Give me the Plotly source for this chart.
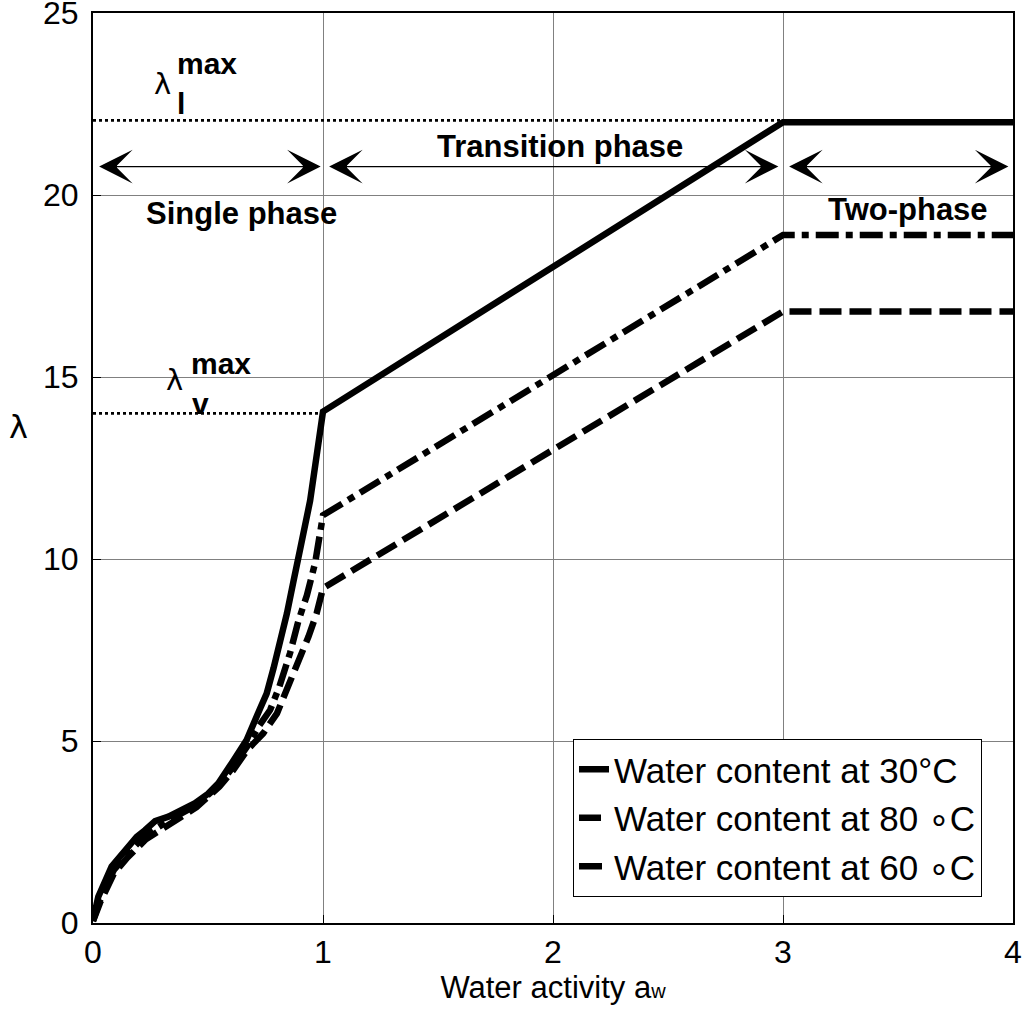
import plotly.graph_objects as go

# ---- data ----
aw_30 = [0.0, 0.023, 0.081, 0.139, 0.19, 0.226, 0.27, 0.328, 0.39, 0.444, 0.50, 0.545, 0.603,
         0.668, 0.727, 0.755, 0.785, 0.81, 0.843, 0.872, 0.888, 0.90, 0.944, 0.98, 1.0, 3.0, 4.0]
lam_30 = [0.08, 0.72, 1.55, 2.0, 2.37, 2.55, 2.8, 2.92, 3.12, 3.29, 3.55, 3.84, 4.39,
          5.03, 5.9, 6.3, 7.0, 7.6, 8.5, 9.4, 10.0, 10.25, 11.6, 13.0, 14.05, 22.0, 22.0]

aw_80 = [0.0, 0.03, 0.09, 0.15, 0.23, 0.33, 0.45, 0.55, 0.61, 0.67, 0.74, 0.80, 0.843,
         0.886, 0.937, 0.972, 1.0, 3.0, 4.0]
lam_80 = [0.05, 0.55, 1.35, 1.8, 2.3, 2.72, 3.18, 3.75, 4.2, 4.75, 5.21, 5.76, 6.4,
          7.04, 7.87, 8.5, 9.2, 16.8, 16.8]

aw_60 = [0.0, 0.03, 0.09, 0.15, 0.23, 0.33, 0.45, 0.55, 0.61, 0.67, 0.72, 0.77, 0.81,
         0.857, 0.893, 0.93, 0.966, 0.99, 1.0, 3.0, 4.0]
lam_60 = [0.06, 0.62, 1.45, 1.9, 2.42, 2.82, 3.24, 3.8, 4.3, 4.85, 5.4, 5.85, 6.49,
          7.42, 8.3, 9.0, 9.9, 10.8, 11.2, 18.9, 18.9]

lam_l_max = 22.05
lam_v_max = 14.0

x_ticks = [0, 1, 2, 3, 4]
y_ticks = [0, 5, 10, 15, 20, 25]

FONT = "Liberation Sans, Arial, sans-serif"

fig = go.Figure()

fig.add_trace(go.Scatter(x=aw_30, y=lam_30, mode="lines", name="Water content at 30°C",
                         legendgroup="a", line=dict(color="black", width=6.5)))
fig.add_trace(go.Scatter(x=aw_80, y=lam_80, mode="lines", name="Water content at 80 ∘C",
                         legendgroup="b", line=dict(color="black", width=6.5, dash="22px,8px")))
fig.add_trace(go.Scatter(x=aw_60, y=lam_60, mode="lines", name="Water content at 60 ∘C",
                         legendgroup="c", line=dict(color="black", width=6.5, dash="23px,7px,7px,7px")))

# dotted max lines
fig.add_trace(go.Scatter(x=[0, 3], y=[lam_l_max, lam_l_max], mode="lines", showlegend=False,
                         line=dict(color="black", width=2.7, dash="3px,3px")))
fig.add_trace(go.Scatter(x=[0, 1], y=[lam_v_max, lam_v_max], mode="lines", showlegend=False,
                         line=dict(color="black", width=2.7, dash="3px,3px")))

ann = []
arrow_y = 20.78
for x0, x1 in [(0.02, 0.99), (1.02, 2.98), (3.02, 3.98)]:
    ann.append(dict(x=x1, y=arrow_y, ax=x0, ay=arrow_y, xref="x", yref="y", axref="x", ayref="y",
                    text="", showarrow=True, arrowhead=3, startarrowhead=3, arrowside="end+start",
                    arrowwidth=1.3, arrowsize=4.3, startarrowsize=4.3, arrowcolor="black"))

bold = dict(family=FONT, size=31, color="black", weight="bold")
ann.append(dict(x=0.644, y=19.5, text="<b>Single phase</b>", showarrow=False, font=bold))
ann.append(dict(x=2.032, y=21.32, text="<b>Transition phase</b>", showarrow=False, font=bold))
ann.append(dict(x=3.542, y=19.59, text="<b>Two-phase</b>", showarrow=False, font=bold))

lam_font = dict(family="DejaVu Sans, sans-serif", size=29, color="black")
sup_font = dict(family=FONT, size=30, color="black")
ann.append(dict(x=0.300, y=23.05, text="λ", showarrow=False, font=lam_font))
ann.append(dict(x=0.496, y=23.6, text="<b>max</b>", showarrow=False, font=sup_font))
ann.append(dict(x=0.384, y=22.52, text="<b>l</b>", showarrow=False, font=sup_font))
ann.append(dict(x=0.355, y=14.92, text="λ", showarrow=False, font=lam_font))
ann.append(dict(x=0.557, y=15.38, text="<b>max</b>", showarrow=False, font=sup_font))
ann.append(dict(x=0.466, y=14.27, text="<b>v</b>", showarrow=False, font=sup_font))

# y-axis label
ann.append(dict(x=-0.093, y=0.545, xref="paper", yref="paper", text="λ", showarrow=False,
                font=dict(family="DejaVu Sans, sans-serif", size=32, color="black")))

fig.update_layout(
    width=1027, height=1016,
    margin=dict(l=93, r=14, t=13, b=93),
    paper_bgcolor="white", plot_bgcolor="white",
    font=dict(family=FONT, size=32, color="black"),
    annotations=ann,
    legend=dict(x=(573 - 93) / 920, y=(923 - 739) / 910, xanchor="left", yanchor="top",
                bgcolor="white", bordercolor="black", borderwidth=1,
                font=dict(family=FONT, size=35, color="black"),
                traceorder="grouped", tracegroupgap=0),
    xaxis=dict(range=[0, 4], tickvals=x_ticks, ticktext=[str(v) for v in x_ticks],
               showgrid=True, gridcolor="#808080", gridwidth=1, zeroline=False,
               showline=True, linecolor="black", linewidth=2, mirror=True,
               ticks="inside", ticklen=8, tickcolor="black", automargin=False,
               ticklabeloverflow="allow",
               title=dict(text='Water activity a<span style="font-size:20px">w</span>',
                          font=dict(family=FONT, size=31), standoff=7)),
    yaxis=dict(range=[0, 25], tickvals=y_ticks, ticktext=[str(v) for v in y_ticks],
               showgrid=True, gridcolor="#808080", gridwidth=1, zeroline=False,
               showline=True, linecolor="black", linewidth=2, mirror=True,
               ticks="inside", ticklen=8, tickcolor="black", ticklabelstandoff=6,
               automargin=False, ticklabeloverflow="allow"),
)

# remove the default 8px body margin so the figure fills the window exactly
fig.write_html("out.html", config={"displayModeBar": False},
               post_script="document.body.style.margin='0';")
